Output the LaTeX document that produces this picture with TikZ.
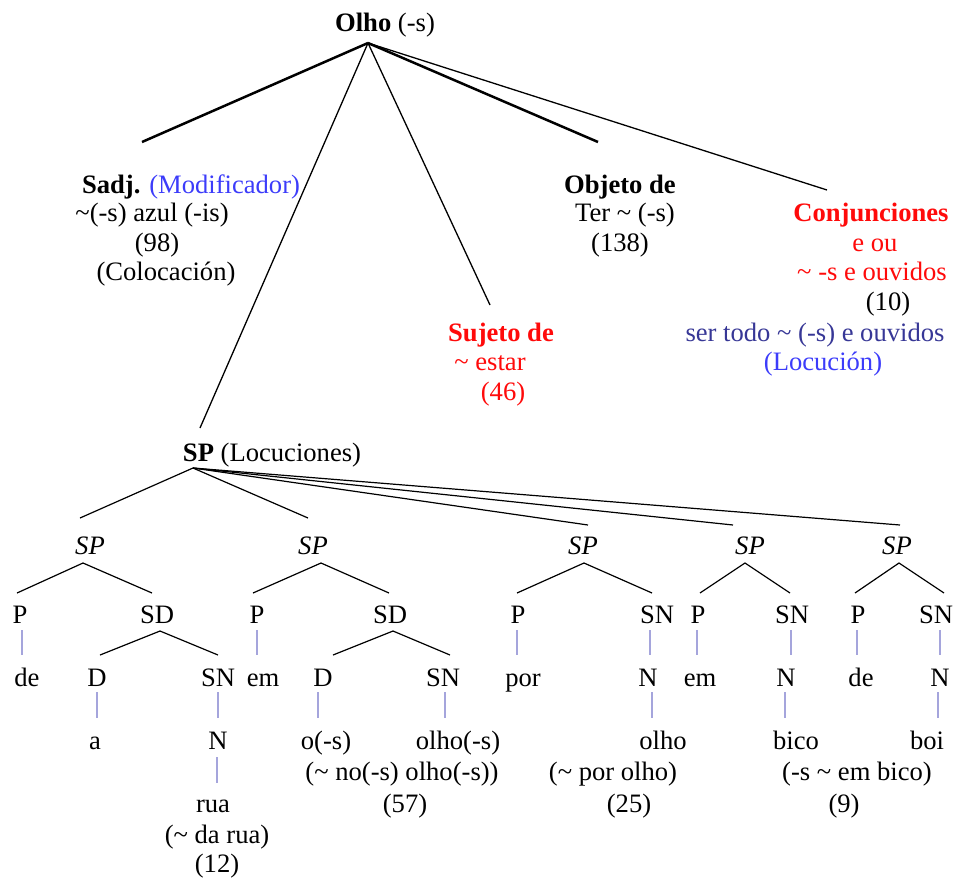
\documentclass[tikz,border=0pt]{standalone}
\usepackage{fontspec}
\setmainfont{Liberation Serif}
\definecolor{modblue}{RGB}{60,60,250}
\definecolor{locblue}{RGB}{55,55,150}
\definecolor{hotred}{RGB}{255,10,10}
\definecolor{stubcol}{RGB}{165,165,220}
\begin{document}
\begin{tikzpicture}[x=0.5pt,y=-0.5pt,
  font=\fontsize{13.3}{15}\selectfont,
  txt/.style={anchor=base,inner sep=0pt,outer sep=0pt},
  trunk/.style={line width=1.25pt,black},
  limb/.style={line width=0.65pt,black},
  twig/.style={line width=0.6pt,black},
  stub/.style={line width=0.55pt,draw=stubcol},
  red/.style={text=hotred},
]
\useasboundingbox (0,0) rectangle (958,879);

% ---------- root ----------
\node[txt] (olho) at (385,31) {\textbf{Olho} (-s)};
\coordinate (root) at (368,43);

% ---------- first-level categories ----------
\node[txt] (sadjA) at (191,193) {\textbf{Sadj.} \textcolor{modblue}{(Modificador)}};
\node[txt] (sadjB) at (152,221) {\textasciitilde(-s) azul (-is)};
\node[txt] (sadjC) at (157,251) {(98)};
\node[txt] (sadjD) at (166,280) {(Colocación)};
\coordinate (sadjEnd) at (142,142);

\node[txt] (objA) at (620,193) {\textbf{Objeto de}};
\node[txt] (objB) at (625,221) {Ter \textasciitilde{} (-s)};
\node[txt] (objC) at (620,251) {(138)};
\coordinate (objEnd) at (598,142);

\node[txt,red] (sujA) at (501,341) {\textbf{Sujeto de}};
\node[txt,red] (sujB) at (490,370) {\textasciitilde{} estar};
\node[txt,red] (sujC) at (503,400) {(46)};
\coordinate (sujEnd) at (490,305);

\node[txt,red] (conjA) at (871,221) {\textbf{Conjunciones}};
\node[txt,red] (conjB) at (875,251) {e ou};
\node[txt,red] (conjC) at (872,280) {\textasciitilde{} -s e ouvidos};
\node[txt] (conjD) at (888,310) {(10)};
\node[txt,text=locblue] (conjE) at (815,341) {ser todo \textasciitilde{} (-s) e ouvidos};
\node[txt,text=modblue] (conjF) at (823,370) {(Locución)};
\coordinate (conjEnd) at (827,190);

\node[txt] (spL) at (272,461) {\textbf{SP} (Locuciones)};
\coordinate (spLEnd) at (200,428);
\coordinate (spLtop) at (193,468);

\draw[trunk] (root) -- (sadjEnd);
\draw[trunk] (root) -- (objEnd);
\draw[limb] (root) -- (spLEnd);
\draw[limb] (root) -- (sujEnd);
\draw[limb] (root) -- (conjEnd);

% ---------- prepositional phrases ----------
\coordinate (e1) at (80,518);
\coordinate (e2) at (308,518);
\coordinate (e3) at (588,525);
\coordinate (e4) at (733,525);
\coordinate (e5) at (900,525);
\foreach \k in {1,...,5} \draw[twig] (spLtop) -- (e\k);

% -- de a rua
\node[txt] (aSP) at (90,554) {\textit{SP}};
\coordinate (aTop) at (83,563);
\coordinate (aL) at (17,593); \coordinate (aR) at (152,593);
\draw[twig] (aL) -- (aTop) -- (aR);
\node[txt] (aP) at (20,623) {P};
\node[txt] (aSD) at (157,623) {SD};
\draw[stub] (22,630) -- (22,655);
\node[txt] (aDe) at (27,686) {de};
\coordinate (aSDtop) at (160,631);
\coordinate (aSDl) at (100,655); \coordinate (aSDr) at (218,655);
\draw[twig] (aSDl) -- (aSDtop) -- (aSDr);
\node[txt] (aD) at (97,686) {D};
\node[txt] (aSN) at (218,686) {SN};
\draw[stub] (97,692) -- (97,718);
\draw[stub] (218,692) -- (218,718);
\node[txt] (aA) at (95,749) {a};
\node[txt] (aN) at (218,749) {N};
\draw[stub] (217,757) -- (217,783);
\node[txt] (aRua) at (213,812) {rua};
\node[txt] (aGl) at (217,843) {(\textasciitilde{} da rua)};
\node[txt] (aCt) at (217,872) {(12)};

% -- em o(-s) olho(-s)
\node[txt] (bSP) at (313,554) {\textit{SP}};
\coordinate (bTop) at (321,563);
\coordinate (bL) at (253,593); \coordinate (bR) at (389,593);
\draw[twig] (bL) -- (bTop) -- (bR);
\node[txt] (bP) at (257,623) {P};
\node[txt] (bSD) at (390,623) {SD};
\draw[stub] (257,630) -- (257,655);
\node[txt] (bEm) at (263,686) {em};
\coordinate (bSDtop) at (393,631);
\coordinate (bSDl) at (333,655); \coordinate (bSDr) at (450,655);
\draw[twig] (bSDl) -- (bSDtop) -- (bSDr);
\node[txt] (bD) at (323,686) {D};
\node[txt] (bSN) at (443,686) {SN};
\draw[stub] (318,692) -- (318,718);
\draw[stub] (445,692) -- (445,718);
\node[txt] (bO) at (326,749) {o(-s)};
\node[txt] (bOlho) at (458,749) {olho(-s)};
\node[txt] (bGl) at (402,780) {(\textasciitilde{} no(-s) olho(-s))};
\node[txt] (bCt) at (405,812) {(57)};

% -- por olho
\node[txt] (cSP) at (583,554) {\textit{SP}};
\coordinate (cTop) at (584,563);
\coordinate (cL) at (517,593); \coordinate (cR) at (652,593);
\draw[twig] (cL) -- (cTop) -- (cR);
\node[txt] (cP) at (518,623) {P};
\node[txt] (cSN) at (657,623) {SN};
\draw[stub] (517,630) -- (517,655);
\draw[stub] (650,630) -- (650,655);
\node[txt] (cPor) at (523,686) {por};
\node[txt] (cN) at (648,686) {N};
\draw[stub] (652,692) -- (652,718);
\node[txt] (cOlho) at (663,749) {olho};
\node[txt] (cGl) at (613,780) {(\textasciitilde{} por olho)};
\node[txt] (cCt) at (629,812) {(25)};

% -- em bico
\node[txt] (dSP) at (750,554) {\textit{SP}};
\coordinate (dTop) at (745,563);
\coordinate (dL) at (700,593); \coordinate (dR) at (790,593);
\draw[twig] (dL) -- (dTop) -- (dR);
\node[txt] (dP) at (698,623) {P};
\node[txt] (dSN) at (792,623) {SN};
\draw[stub] (697,630) -- (697,655);
\draw[stub] (791,630) -- (791,655);
\node[txt] (dEm) at (700,686) {em};
\node[txt] (dN) at (786,686) {N};
\draw[stub] (785,692) -- (785,718);
\node[txt] (dBico) at (796,749) {bico};
\node[txt] (dGl) at (857,780) {(-s \textasciitilde{} em bico)};
\node[txt] (dCt) at (844,812) {(9)};

% -- de boi
\node[txt] (fSP) at (897,554) {\textit{SP}};
\coordinate (fTop) at (899,563);
\coordinate (fL) at (855,593); \coordinate (fR) at (944,593);
\draw[twig] (fL) -- (fTop) -- (fR);
\node[txt] (fP) at (858,623) {P};
\node[txt] (fSN) at (936,623) {SN};
\draw[stub] (857,630) -- (857,655);
\draw[stub] (940,630) -- (940,655);
\node[txt] (fDe) at (861,686) {de};
\node[txt] (fN) at (940,686) {N};
\draw[stub] (938,692) -- (938,718);
\node[txt] (fBoi) at (927,749) {boi};
\end{tikzpicture}
\end{document}
